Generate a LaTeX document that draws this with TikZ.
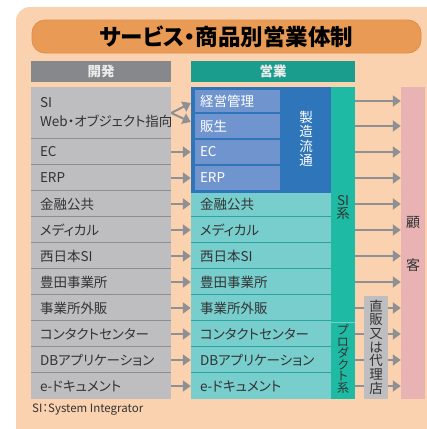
\documentclass[tikz,border=0pt]{standalone}
\usepackage{fontspec}
\setmainfont{Noto Sans CJK JP}[RawFeature=+palt]
\usetikzlibrary{arrows.meta}
\definecolor{peach}{HTML}{FBD2AF}
\definecolor{titleorange}{HTML}{E99B55}
\definecolor{titleedge}{HTML}{DE8E48}
\definecolor{headgray}{HTML}{87888B}
\definecolor{headteal}{HTML}{1A9D8D}
\definecolor{rowgray}{HTML}{BEBEC1}
\definecolor{rowline}{HTML}{8D8E90}
\definecolor{bluebox}{HTML}{2F75B9}
\definecolor{lblue}{HTML}{7094CE}
\definecolor{lteal}{HTML}{78CDCD}
\definecolor{tealline}{HTML}{2BA49C}
\definecolor{sigreen}{HTML}{1EBAA3}
\definecolor{pinkbox}{HTML}{E9B3B3}
\definecolor{arrgray}{HTML}{8F9093}
\definecolor{textdark}{HTML}{333333}
\tikzset{
  rowtext/.style={font=\fontsize{13.5}{19}\selectfont},
  lrow/.style={rectangle, fill=rowgray, inner xsep=9pt, inner ysep=0pt, text width=122pt, align=left, minimum height=26pt, text=textdark, rowtext},
  trow/.style={rectangle, fill=lteal, inner xsep=9pt, inner ysep=0pt, text width=122pt, align=left, minimum height=26pt, text=textdark, rowtext},
  brow/.style={rectangle, fill=lblue, draw=bluebox, line width=1.2pt, inner xsep=6pt, inner ysep=0pt, text width=75pt, align=left, text=white, rowtext},
  rowsep/.style={draw=rowline, line width=1pt},
  tealsep/.style={draw=tealline, line width=1.2pt},
  arr/.style={draw=arrgray, line width=2pt, -{Triangle[length=8pt,width=11pt]}},
  plainline/.style={draw=arrgray, line width=2pt},
  header/.style={rectangle, inner sep=0pt, minimum height=21pt, text=white!92!black, font=\fontsize{13.5}{15}\selectfont\bfseries},
  colbox/.style={rectangle, inner sep=0pt, minimum width=24pt},
  vtext/.style={align=center, inner sep=0pt}
}
\begin{document}
\begin{tikzpicture}[x=1pt,y=-1pt]
\useasboundingbox (0,0) rectangle (427,429);
\clip (0,0) rectangle (427,429);
% background
\fill[peach, rounded corners=14pt] (16,7) rectangle (450,460);
% title
\node[draw=titleedge, line width=0.8pt, fill=titleorange, rounded corners=13pt, minimum width=389pt, minimum height=33pt, inner sep=0pt,
  font=\fontsize{22.5}{24}\selectfont\bfseries, text=black] (title) at (226.5,36.5) {サービス・商品別営業体制};
% headers
\node[header, fill=headgray, minimum width=140pt] (hdev) at (101,71.5) {開発};
\node[header, fill=headteal, minimum width=164pt] (hsales) at (273,71.5) {営業};
% left rows
\node[lrow, minimum height=52pt] (L0) at (101,113) {SI\\Web・オブジェクト指向};
\foreach \t [count=\i] in {EC,ERP,金融公共,メディカル,西日本SI,豊田事業所,事業所外販,コンタクトセンター,DBアプリケーション,e-ドキュメント}{
  \node[lrow] (L\i) at (101,{152+26*(\i-1)}) {\t};
  \draw[rowsep] (L\i.north west) -- (L\i.north east);
}
% teal rows
\foreach \t [count=\i from 3] in {金融公共,メディカル,西日本SI,豊田事業所,事業所外販,コンタクトセンター,DBアプリケーション,e-ドキュメント}{
  \node[trow] (T\i) at (261,{152+26*(\i-1)}) {\t};
}
\foreach \i in {4,...,10}{\draw[tealsep] (T\i.north west) -- (T\i.north east);}
% blue block
\node[rectangle, fill=bluebox, minimum width=140pt, minimum height=106pt, inner sep=0pt] (blue) at (261,140) {};
\node[brow, minimum height=24pt] (M0) at (237.5,101) {経営管理};
\node[brow, minimum height=26pt] (M1) at (237.5,126) {販生};
\node[brow, minimum height=26pt] (M2) at (237.5,152) {EC};
\node[brow, minimum height=26pt] (M3) at (237.5,178) {ERP};
\node[vtext, text=white, font=\fontsize{13.5}{14.5}\selectfont] (seizo) at (306,139) {製\\造\\流\\通};
% SI column and product column
\node[colbox, fill=sigreen, minimum height=234.5pt] (si) at (343,204.25) {};
\node[vtext, text=textdark, font=\fontsize{13.5}{13}\selectfont] (sitxt) at (343,207) {SI\\系};
\node[colbox, fill=sigreen, minimum height=76.5pt] (pr) at (343,360.75) {};
\draw[draw=lteal, line width=1.2pt] (pr.north west) -- (pr.north east);
\node[vtext, text=textdark, font=\fontsize{12}{11.5}\selectfont] (prtxt) at (343,359) {プ\\ロ\\ダ\\ク\\ト\\系};
% direct sales
\node[colbox, fill=rowgray, minimum height=103pt] (dr) at (376,347.5) {};
\node[vtext, text=textdark, font=\fontsize{13.5}{13.7}\selectfont] (drtxt) at (376,347) {直\\販\\又\\は\\代\\理\\店};
% customer
\node[colbox, fill=pinkbox, minimum height=312pt] (cu) at (413,243) {};
\node[text=textdark, font=\fontsize{14}{15}\selectfont, inner sep=0pt] (c1) at (413,223) {顧};
\node[text=textdark, font=\fontsize{14}{15}\selectfont, inner sep=0pt] (c2) at (413,265) {客};
% left to middle arrows
\draw[arr] (L0.east) -- ([yshift=-2pt]blue.west |- M0.west);
\draw[arr] (L0.east) -- ([yshift=4pt]blue.west |- M1.west);
\draw[arr] (L1.east) -- (blue.west |- M2.west);
\draw[arr] (L2.east) -- (blue.west |- M3.west);
\foreach \i in {3,...,10}{\draw[arr] (L\i.east) -- (T\i.west);}
% right arrows
\foreach \m in {M0,M1,M2,M3,T3,T4,T5,T6}{\draw[arr] (si.east |- \m.east) -- (cu.west |- \m.east);}
\foreach \i in {7,...,10}{
  \draw[plainline] (si.east |- T\i.east) -- (dr.west |- T\i.east);
  \draw[arr] (dr.east |- T\i.east) -- (cu.west |- T\i.east);
}
% footnote
\node[anchor=west, inner sep=0pt, text=textdark, font=\fontsize{11.5}{13}\selectfont] (foot) at (32,410) {SI：System Integrator};
\end{tikzpicture}
\end{document}
